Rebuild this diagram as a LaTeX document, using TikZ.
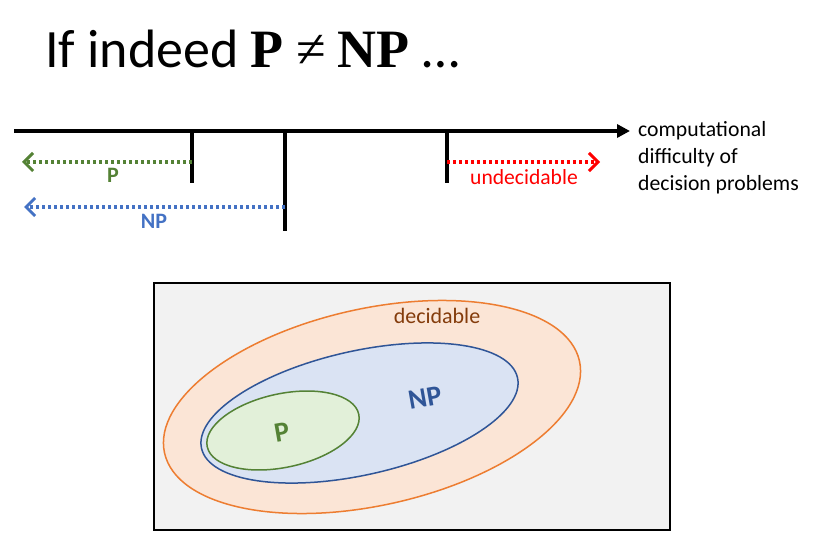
\documentclass[tikz,border=0pt]{standalone}
\usepackage{fontspec}
\setmainfont{Carlito}
\newfontfamily\serifface{Liberation Serif}
\usetikzlibrary{arrows.meta}
\definecolor{pgreen}{HTML}{548235}
\definecolor{npblue}{HTML}{4472C4}
\definecolor{npdark}{HTML}{2F5597}
\definecolor{orng}{HTML}{ED7D31}
\definecolor{orngfill}{HTML}{FBE5D6}
\definecolor{bluefill}{HTML}{DAE3F3}
\definecolor{greenfill}{HTML}{E2F0D9}
\definecolor{brown}{HTML}{843C0C}
\definecolor{boxgray}{HTML}{F2F2F2}
\tikzset{
  axisline/.style={line width=3.6pt},
  tickline/.style={line width=3.6pt},
  rangearrow/.style={line width=3.3pt, dash pattern=on 3.3pt off 2.7pt,
    -{Straight Barb[length=9pt,width=18pt,line width=3pt]}},
  lbl/.style={inner sep=0pt, font=\fontsize{22}{26}\selectfont\bfseries},
}
\begin{document}
\begin{tikzpicture}[x=1pt,y=1pt]
\useasboundingbox (0,0) rectangle (818,555);

% title
\node[anchor=base west, inner sep=0pt, font=\fontsize{54}{64}\selectfont] (title) at (45,487)
  {If indeed {\serifface\bfseries P} {\serifface ≠} {\serifface\bfseries NP} \ldots};

% difficulty axis with ticks
\coordinate (ax0) at (14,424);
\coordinate (ax1) at (630,424);
\draw[axisline, -{Triangle[length=13pt,width=13pt]}] (ax0) -- (ax1);
\coordinate (tP) at (192,424);   \coordinate (tPe) at (192,372);
\coordinate (tNP) at (285,424);  \coordinate (tNPe) at (285,324);
\coordinate (tU) at (447,424);   \coordinate (tUe) at (447,372);
\draw[tickline] (tP) -- (tPe);
\draw[tickline] (tNP) -- (tNPe);
\draw[tickline] (tU) -- (tUe);

\node[anchor=north west, align=left, inner sep=0pt,
      font=\fontsize{21.7}{27}\selectfont] (axlabel) at (638,434)
  {computational\\difficulty of\\decision problems};

% ranges along the axis
\coordinate (pS) at (192,393);  \coordinate (pE) at (22,393);
\coordinate (nS) at (285,348);  \coordinate (nE) at (24,348);
\coordinate (uS) at (447,393);  \coordinate (uE) at (600,393);
\draw[rangearrow, pgreen] (pS) -- (pE);
\draw[rangearrow, npblue] (nS) -- (nE);
\draw[rangearrow, red] (uS) -- (uE);
\node[lbl, text=pgreen] (plbl) at (113,380) {P};
\node[lbl, text=npblue] (nplbl) at (154,334) {NP};
\node[inner sep=0pt, text=red, font=\fontsize{21.6}{26}\selectfont] (ulbl) at (524,378) {undecidable};

% nested classes
\draw[line width=2pt, fill=boxgray] (154,25) rectangle (670,272);
\draw[orng, line width=1.5pt, fill=orngfill, rotate around={12.5:(372,148)}]
  (372,148) ellipse [x radius=212.5, y radius=98.4];
\draw[npdark, line width=1.5pt, fill=bluefill, rotate around={12.6:(359.5,142)}]
  (359.5,142) ellipse [x radius=161.9, y radius=62];
\draw[pgreen, line width=1.5pt, fill=greenfill, rotate around={12.1:(283,124.5)}]
  (283,124.5) ellipse [x radius=77.5, y radius=36.8];
\node[inner sep=0pt, text=brown, font=\fontsize{22}{26}\selectfont] (dec) at (437,239) {decidable};
\node[inner sep=0pt, text=npdark, rotate=10, font=\fontsize{28}{32}\selectfont\bfseries] (np) at (425,157) {NP};
\node[inner sep=0pt, text=pgreen, rotate=10, font=\fontsize{28}{32}\selectfont\bfseries] (p) at (282,123) {P};
\end{tikzpicture}
\end{document}
